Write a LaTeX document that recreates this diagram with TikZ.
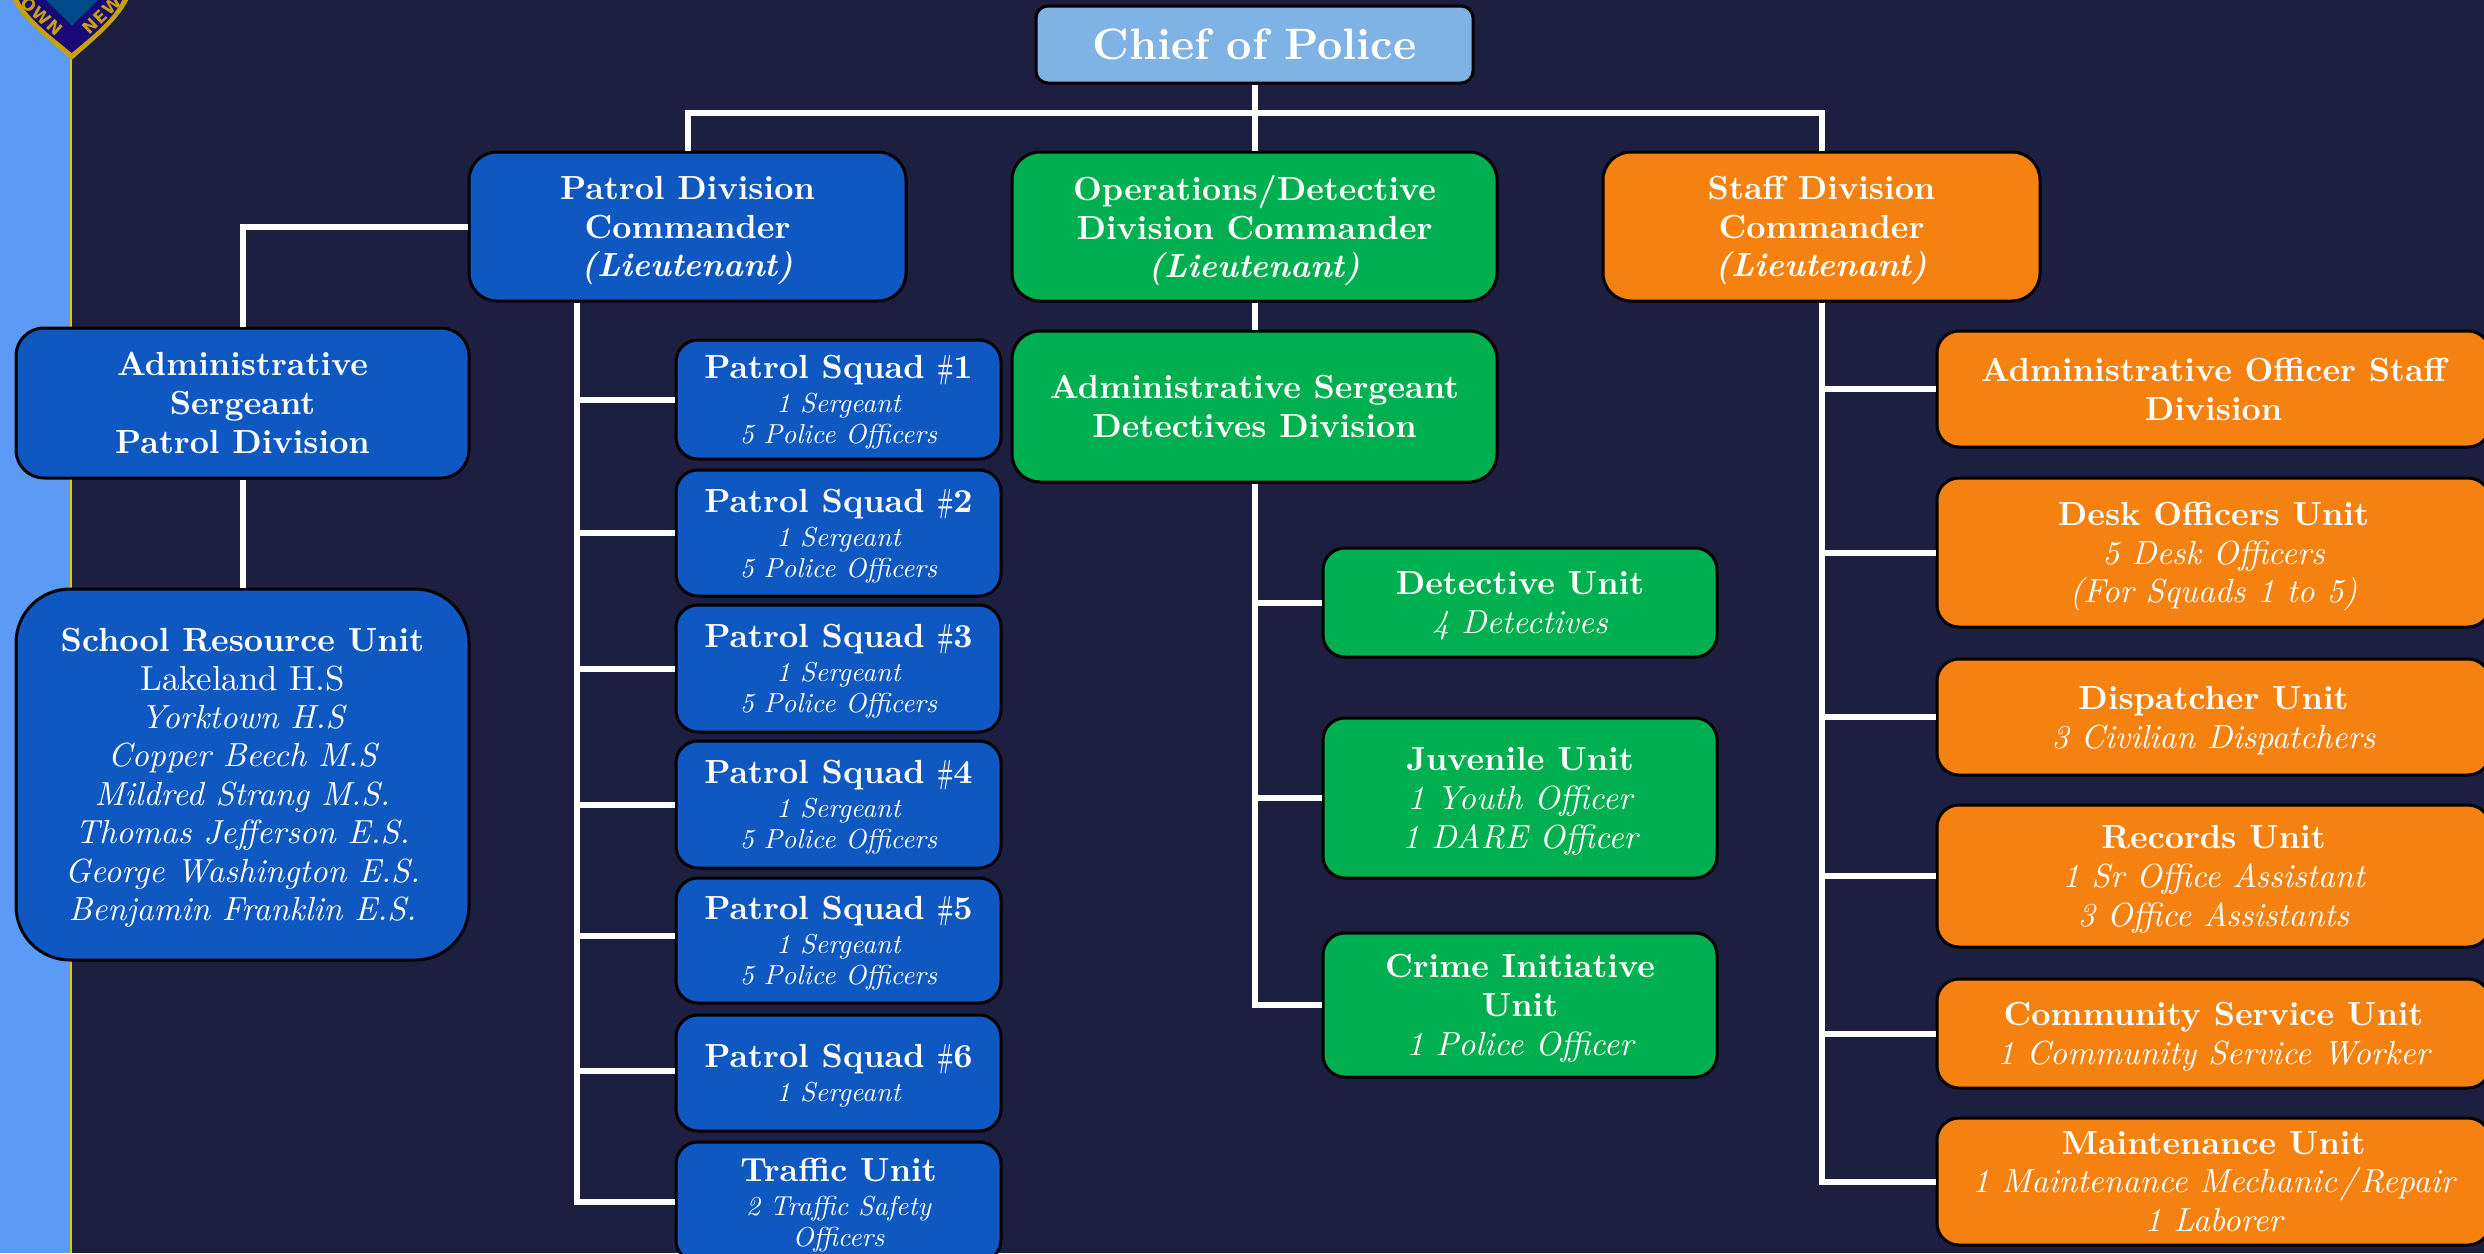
\documentclass[tikz,border=0pt]{standalone}
\usepackage{fontspec}
\setmainfont{lmroman10-regular.otf}[
    BoldFont=lmroman10-bold.otf,
    ItalicFont=lmroman10-italic.otf,
    BoldItalicFont=lmroman10-bolditalic.otf]
\newfontfamily\badgefont{DejaVu Sans}[LetterSpace=6]
\usetikzlibrary{positioning, calc}

\definecolor{pagebg}{HTML}{1C1F40}
\definecolor{bandblue}{HTML}{5B9BF5}
\definecolor{chiefblue}{HTML}{7FB2E5}
\definecolor{patrolblue}{HTML}{0F58C2}
\definecolor{opsgreen}{HTML}{00B050}
\definecolor{stafforange}{HTML}{F58210}
\definecolor{badgegold}{HTML}{C8A008}
\definecolor{badgenavy}{HTML}{1A0A78}
\definecolor{badgeblue}{HTML}{004A8C}

\newcommand{\headfont}{\fontsize{16.7}{19.4}\selectfont\bfseries}
\newcommand{\subfont}{\fontsize{13.7}{16.2}\selectfont\itshape\mdseries}
\newcommand{\bigsub}{\fontsize{16.7}{19.4}\selectfont\itshape\mdseries}
\newcommand{\numsign}{\scalebox{0.5}[1]{\#}}

\begin{document}
\begin{tikzpicture}[
    x=1pt, y=-1pt,
    % Styles
    unit/.style={ % Any box of the chart
        draw=black,
        line width=1.5pt,
        rounded corners=11pt,
        text=white,
        align=center,
        inner sep=0pt,
        text depth=0pt,
        font=\headfont
    },
    patrol/.style={unit, fill=patrolblue},
    ops/.style={unit, fill=opsgreen},
    staff/.style={unit, fill=stafforange},
    squad/.style={ % Boxes of the patrol column, tighter lines
        patrol,
        minimum width=162.5pt,
        text depth=-5pt,
        font=\fontsize{16.7}{16.3}\selectfont\bfseries
    },
    detect/.style={ops, minimum width=197pt},
    office/.style={staff, minimum width=276.5pt},
    badgetext/.style={
        text=badgegold,
        font=\badgefont\bfseries\fontsize{8.5}{8.5}\selectfont
    },
    link/.style={ % Connector lines
        draw=white,
        line width=3pt
    }
]
    \useasboundingbox (0,0) rectangle (1242,626.5);
    \fill[pagebg] (0,0) rectangle (1242,626.5);
    \fill[bandblue] (0,0) rectangle (35.2,626.5);
    \draw[color=badgegold!60!yellow, line width=1pt] (35.4,29) -- (35.4,626.5);

    % Badge, cut off by the page top
    \fill[badgegold] (5.5,-2) .. controls (10,10) and (25,20) .. (35.8,30) .. controls (47,20) and (60,10) .. (65,-2) -- cycle;
    \fill[badgenavy] (8.5,-2) .. controls (12.5,8.5) and (26,18) .. (35.8,26.5) .. controls (46,18) and (58,8.5) .. (62,-2) -- cycle;
    \fill[badgeblue] (22,-1) -- (36,12.8) -- (50,-1) -- cycle;
    \node[badgetext, rotate=-42] (badgeleft) at (21,8) {OWN};
    \node[badgetext, rotate=44] (badgeright) at (51,7.5) {NEW};

    % Chief and the three divisions
    \node[unit, fill=chiefblue, rounded corners=6pt, minimum width=218.5pt, minimum height=38.5pt,
        text depth=-1.5pt, font=\fontsize{22}{25}\selectfont\bfseries] (chief) at (627.25,22.25) {Chief of Police};
    \node[patrol, rounded corners=14pt, minimum width=218.5pt, minimum height=74.5pt] (patroldiv) at (343.75,113.25)
        {Patrol Division\\Commander\\\textit{(Lieutenant)}};
    \node[ops, rounded corners=14pt, minimum width=242.5pt, minimum height=74.5pt] (opsdiv) at (627.25,113.25)
        {Operations/Detective\\Division Commander\\\textit{(Lieutenant)}};
    \node[staff, rounded corners=14pt, minimum width=218.5pt, minimum height=74.5pt] (staffdiv) at (910.75,113.25)
        {Staff Division\\Commander\\\textit{(Lieutenant)}};

    % Patrol side
    \node[patrol, rounded corners=14pt, minimum width=226.5pt, minimum height=75pt] (adminpatrol) at (121.25,201.5)
        {Administrative\\Sergeant\\Patrol Division};
    \node[patrol, rounded corners=27pt, minimum width=226.5pt, minimum height=185.5pt,
        font=\fontsize{16.7}{19.2}\selectfont\bfseries] (school) at (121.25,387.25)
        {School Resource Unit\\{\fontsize{17.4}{19.2}\selectfont\mdseries Lakeland H.S}\\{\bigsub Yorktown H.S}\\{\bigsub Copper Beech M.S}\\{\bigsub Mildred Strang M.S.}\\{\bigsub Thomas Jefferson E.S.}\\{\bigsub George Washington E.S.}\\{\bigsub Benjamin Franklin E.S.}};

    \node[squad, minimum height=59.5pt] (squad1) at (419.25,199.75) {Patrol Squad \numsign1\\[0.8pt]{\subfont 1 Sergeant}\\[-0.8pt]{\subfont 5 Police Officers}};
    \node[squad, minimum height=63pt] (squad2) at (419.25,266.5) {Patrol Squad \numsign2\\[0.8pt]{\subfont 1 Sergeant}\\[-0.8pt]{\subfont 5 Police Officers}};
    \node[squad, minimum height=63.5pt] (squad3) at (419.25,334.25) {Patrol Squad \numsign3\\[0.8pt]{\subfont 1 Sergeant}\\[-0.8pt]{\subfont 5 Police Officers}};
    \node[squad, minimum height=63.5pt] (squad4) at (419.25,402.25) {Patrol Squad \numsign4\\[0.8pt]{\subfont 1 Sergeant}\\[-0.8pt]{\subfont 5 Police Officers}};
    \node[squad, minimum height=62.5pt] (squad5) at (419.25,470.25) {Patrol Squad \numsign5\\[0.8pt]{\subfont 1 Sergeant}\\[-0.8pt]{\subfont 5 Police Officers}};
    \node[squad, minimum height=58pt] (squad6) at (419.25,536.5) {Patrol Squad \numsign6\\[0.8pt]{\subfont 1 Sergeant}};
    \node[squad, minimum height=60pt] (traffic) at (419.25,601) {Traffic Unit\\[0.8pt]{\subfont 2 Traffic Safety}\\[-0.8pt]{\subfont Officers}};

    % Detectives side
    \node[ops, rounded corners=14pt, minimum width=242.5pt, minimum height=75.5pt] (admindet) at (627.25,203.25)
        {Administrative Sergeant\\Detectives Division};
    \node[detect, minimum height=54.5pt] (detective) at (760,301.25) {Detective Unit\\{\bigsub 4 Detectives}};
    \node[detect, minimum height=80pt] (juvenile) at (760,399) {Juvenile Unit\\{\bigsub 1 Youth Officer}\\{\bigsub 1 DARE Officer}};
    \node[detect, minimum height=72pt] (crime) at (760,502.5) {Crime Initiative\\Unit\\{\bigsub 1 Police Officer}};

    % Staff side
    \node[office, minimum height=58pt] (adminoffice) at (1106.75,194.5) {Administrative Officer Staff\\Division};
    \node[office, minimum height=74.5pt] (desk) at (1106.75,276.25) {Desk Officers Unit\\{\bigsub 5 Desk Officers}\\{\bigsub (For Squads 1 to 5)}};
    \node[office, minimum height=58pt] (dispatcher) at (1106.75,358.5) {Dispatcher Unit\\{\bigsub 3 Civilian Dispatchers}};
    \node[office, minimum height=71pt] (records) at (1106.75,438) {Records Unit\\{\bigsub 1 Sr Office Assistant}\\{\bigsub 3 Office Assistants}};
    \node[office, minimum height=54.5pt] (community) at (1106.75,516.75) {Community Service Unit\\{\bigsub 1 Community Service Worker}};
    \node[office, minimum height=63.5pt] (maintenance) at (1106.75,590.75) {Maintenance Unit\\{\bigsub 1 Maintenance Mechanic\kern1.5pt/\kern1.5pt Repair}\\{\bigsub 1 Laborer}};

    % Connectors
    \draw[link] (chief.south) -- (opsdiv.north);
    \draw[link] (patroldiv.north) |- ($(chief.south)!0.43!(opsdiv.north)$) -| (staffdiv.north);
    \draw[link] (patroldiv.west) -| (adminpatrol.north);
    \draw[link] (adminpatrol.south) -- (school.north);
    \draw[link] (opsdiv.south) -- (admindet.north);

    \coordinate (patroltrunk) at ([xshift=-55.25pt]patroldiv.south);
    \foreach \target/\dy in {squad1/0,squad2/0,squad3/0,squad4/0,squad5/-2.4,squad6/-1,traffic/0}
        \draw[link] (patroltrunk) |- ([yshift=-\dy pt]\target.west);
    \foreach \target in {detective,juvenile,crime}
        \draw[link] (admindet.south) |- (\target.west);
    \foreach \target in {adminoffice,desk,dispatcher,records,community,maintenance}
        \draw[link] (staffdiv.south) |- (\target.west);
\end{tikzpicture}
\end{document}
